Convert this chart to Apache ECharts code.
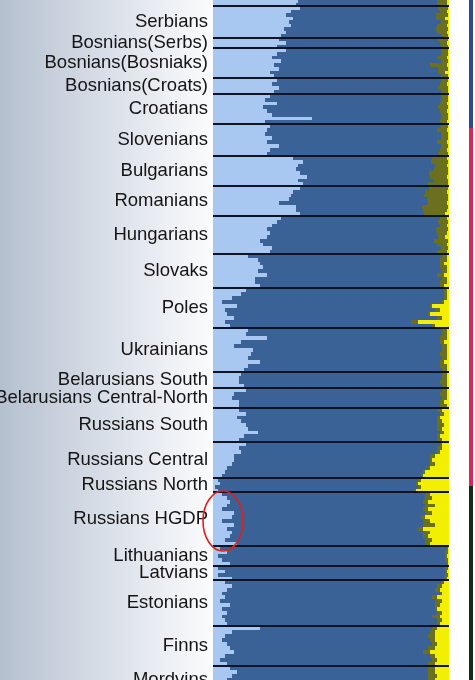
<!DOCTYPE html>
<html>
<head>
<meta charset="utf-8">
<script src="https://cdn.jsdelivr.net/npm/echarts@6/dist/echarts.min.js"></script>
<style>
html, body { margin: 0; padding: 0; background: #fff; }
#main { width: 475px; height: 680px; }
</style>
</head>
<body>
<div id="main"></div>
<script>
// populations, top to bottom (first one is cut off above the picture)
var groups = ['', 'Serbians', 'Bosnians(Serbs)', 'Bosnians(Bosniaks)', 'Bosnians(Croats)', 'Croatians',
  'Slovenians', 'Bulgarians', 'Romanians', 'Hungarians', 'Slovaks', 'Poles', 'Ukrainians',
  'Belarusians South', 'Belarusians Central-North', 'Russians South', 'Russians Central',
  'Russians North', 'Russians HGDP', 'Lithuanians', 'Latvians', 'Estonians', 'Finns', 'Mordvins'];

// sample counts per population (row height of each block)
var sizes = [3, 16, 5, 15, 8, 15, 16, 15, 15, 19, 17, 20, 22, 8, 10, 17, 18, 7, 27, 10, 7, 23, 20, 14];

// ancestry shares (%) of individuals; dark blue is the remainder
var lightBlue = [
  [36, 35],
  [37, 33, 31, 34, 32, 33, 30, 31, 29],
  [28, 31, 27],
  [31, 27, 25, 29, 26, 28, 24, 26],
  [27, 25, 28, 26],
  [24, 22, 27, 21, 23, 25, 42, 22],
  [24, 23, 22, 25, 23, 28, 24, 23],
  [34, 38, 36, 35, 37, 40, 36, 38],
  [37, 34, 33, 32, 28, 35, 35, 37],
  [29, 27, 25, 23, 24, 23, 20, 21, 25, 24],
  [15, 19, 20, 21, 19, 23, 18, 18, 20],
  [14, 12, 8, 4, 10, 5, 6, 9, 5, 7],
  [15, 14, 23, 12, 9, 17, 16, 15, 20, 15, 13],
  [12, 11, 11, 13],
  [14, 9, 8, 11, 11],
  [11, 14, 10, 12, 14, 15, 19, 13, 11],
  [14, 11, 12, 9, 9, 8, 6, 5, 4],
  [2, 3, 1, 2],
  [4, 6, 7, 6, 4, 9, 8, 4, 9, 6, 8, 7, 5, 10],
  [3, 6, 2, 4, 7],
  [2, 5, 2, 8],
  [5, 8, 6, 4, 5, 3, 7, 4, 6, 4, 5, 6],
  [20, 8, 5, 4, 6, 7, 9, 5, 3, 6],
  [7, 10, 8, 6, 9, 7, 8]
];
var olive = [
  [4, 4],
  [4, 3, 5, 4, 3, 4, 5, 4, 3],
  [4, 3, 3],
  [3, 3, 4, 3, 7, 4, 3, 3],
  [3, 3, 4, 3],
  [3, 3, 3, 4, 3, 3, 3, 3],
  [3, 4, 3, 3, 4, 3, 3, 4],
  [6, 7, 5, 6, 8, 7, 6, 9],
  [8, 9, 10, 9, 8, 11, 10, 9],
  [3, 4, 3, 5, 4, 3, 6, 4, 3, 4],
  [2, 3, 2, 3, 2, 3, 2, 3, 2],
  [1, 1, 1, 1, 1, 2, 1, 2, 3, 1],
  [2, 2, 3, 2, 2, 2, 3, 2, 2, 3, 2],
  [2, 2, 3, 2],
  [2, 3, 2, 2, 3],
  [2, 2, 1, 2, 3, 2, 2, 1, 2],
  [1, 2, 1, 2, 1, 2, 1, 1, 1],
  [1, 1, 1, 1],
  [2, 3, 2, 4, 2, 3, 2, 3, 5, 2, 3, 2, 3, 2],
  [0.5, 1, 0.5, 1, 0.5],
  [1, 0.5, 1, 1],
  [1, 2, 2, 1, 2, 3, 2, 1, 2, 3, 2, 1],
  [2, 2, 3, 2, 2, 3, 3, 2, 2, 3],
  [3, 3, 4, 3, 3, 4, 3]
];
var yellow = [
  [1, 1],
  [0.5, 1, 0.5, 1.5, 0.5, 1, 0.5, 1, 0.5],
  [0.5, 1, 0.5],
  [0.5, 0.5, 1, 0.5, 1, 0.5, 1.5, 0.5],
  [0.5, 1, 0.5, 0.5],
  [0.5, 0.5, 1, 0.5, 1, 0.5, 0.5, 1],
  [0.5, 1, 0.5, 0.5, 1, 0.5, 1, 0.5],
  [1, 0.5, 1, 0.5, 0.5, 1, 0.5, 0.5],
  [0.5, 1, 0.5, 0.5, 1, 0.5, 1, 1.5],
  [1, 0.5, 1, 0.5, 1, 1.5, 0.5, 1, 0.5, 1],
  [1, 1, 2, 1, 1, 2, 1, 1, 2],
  [1, 1, 1, 2, 7, 4, 8, 3, 13, 6],
  [1, 1, 1, 2, 1, 1, 1, 1, 2, 1, 1],
  [1, 1, 1, 1],
  [1, 1, 1, 2, 1],
  [3, 2, 4, 3, 2, 3, 2, 4, 3],
  [3, 3, 4, 6, 7, 6, 8, 10, 11],
  [12, 13, 12, 14],
  [8, 7, 9, 6, 9, 7, 10, 8, 6, 11, 8, 9, 7, 8],
  [0.5, 0.5, 1, 0.5, 0.5],
  [0.5, 1, 0.5, 1],
  [2, 3, 4, 3, 5, 3, 4, 5, 3, 4, 3, 4],
  [5, 6, 6, 6, 5, 6, 8, 6, 5, 6],
  [6, 6, 5, 6, 7, 5, 6]
];

// region bar on the right: boundaries in sample units
var regionBreaks = [0, 64, 243, 347];

var colors = ['#a8c8f2', '#3a6296', '#6b701f', '#f2ef00'];
var regionColors = ['#2c4a8c', '#d8285a', '#132a1c'];

// build rows, separators and label positions
var rows = [];
var bounds = [];
var centers = [];
var start = 0;
for (var g = 0; g < groups.length; g++) {
  var k = lightBlue[g].length;
  var h = sizes[g] / k;
  for (var j = 0; j < k; j++) {
    var lb = lightBlue[g][j], ol = olive[g][j], ye = yellow[g][j];
    rows.push([start + j * h, start + (j + 1) * h, lb, 100 - lb - ol - ye, ol, ye]);
  }
  if (g > 0) bounds.push([start]);
  if (groups[g]) centers.push({ v: start + sizes[g] / 2, name: groups[g] });
  start += sizes[g];
}
var regions = [];
for (var r = 0; r < regionBreaks.length - 1; r++) {
  regions.push([regionBreaks[r], regionBreaks[r + 1], r]);
}

var chart = echarts.init(document.getElementById('main'));

function renderRow(params, api) {
  var top = api.value(0), bot = api.value(1);
  var acc = 0;
  var children = [];
  var y0 = Math.round(api.coord([0, top])[1]);
  var y1 = Math.round(api.coord([0, bot])[1]);
  for (var c = 0; c < 4; c++) {
    var v = api.value(2 + c);
    var x0 = Math.round(api.coord([acc, top])[0]);
    var x1 = Math.round(api.coord([acc + v, top])[0]);
    if (x1 > x0) {
      children.push({
        type: 'rect',
        shape: { x: x0, y: y0, width: x1 - x0, height: y1 - y0 },
        style: { fill: colors[c] }
      });
    }
    acc += v;
  }
  return { type: 'group', children: children };
}

function renderSep(params, api) {
  var cs = params.coordSys;
  var p = api.coord([0, api.value(0)]);
  return {
    type: 'rect',
    shape: { x: cs.x, y: Math.round(p[1]) - 1, width: cs.width, height: 2 },
    style: { fill: '#0e1424' }
  };
}

function renderRegion(params, api) {
  var cs = params.coordSys;
  var p0 = api.coord([0, api.value(0)]);
  var p1 = api.coord([0, api.value(1)]);
  return {
    type: 'rect',
    shape: { x: cs.x + cs.width + 20, y: p0[1], width: 4, height: p1[1] - p0[1] },
    style: { fill: regionColors[api.value(2)] }
  };
}

chart.setOption({
  animation: false,
  backgroundColor: '#ffffff',
  graphic: [{
    type: 'rect',
    left: 0, top: 0, z: -10, silent: true,
    shape: { width: 213, height: 680 },
    style: {
      fill: new echarts.graphic.LinearGradient(0, 0, 1, 0, [
        { offset: 0, color: '#b5c0cf' },
        { offset: 0.5, color: '#d9dfe8' },
        { offset: 1, color: '#fbfcfd' }
      ])
    }
  }],
  grid: { left: 213, right: 26, top: 0, bottom: 0, outerBoundsMode: 'none', containLabel: false },
  xAxis: { type: 'value', min: 0, max: 100, show: false },
  yAxis: {
    type: 'value', min: 0, max: 340, inverse: true,
    axisLine: { show: false }, axisTick: { show: false }, splitLine: { show: false },
    axisLabel: {
      customValues: centers.map(function (c) { return c.v; }),
      showMaxLabel: true,
      margin: 5,
      fontFamily: 'Liberation Sans, Arial, sans-serif',
      fontSize: 18.5,
      color: '#151515',
      formatter: function (value) {
        var best = centers[0];
        centers.forEach(function (c) { if (Math.abs(c.v - value) < Math.abs(best.v - value)) best = c; });
        return best.name;
      }
    }
  },
  series: [
    { type: 'custom', renderItem: renderRow, data: rows, encode: { x: [2, 3, 4, 5], y: [0, 1] }, clip: false },
    { type: 'custom', renderItem: renderSep, data: bounds, encode: { y: 0 }, z: 3 },
    { type: 'custom', renderItem: renderRegion, data: regions, encode: { y: [0, 1] }, clip: false }
  ]
});

// red hand-drawn ring around the Russians HGDP block
var hg = groups.indexOf('Russians HGDP');
var hgStart = sizes.slice(0, hg).reduce(function (a, b) { return a + b; }, 0);
var yTop = chart.convertToPixel({ yAxisIndex: 0 }, hgStart);
var yBot = chart.convertToPixel({ yAxisIndex: 0 }, hgStart + sizes[hg]);
var xLeft = chart.convertToPixel({ xAxisIndex: 0 }, 0);
chart.setOption({
  graphic: [{}, {
    type: 'ellipse', z: 10, silent: true,
    shape: { cx: xLeft + 10, cy: (yTop + yBot) / 2 + 2, rx: 20, ry: (yBot - yTop) / 2 + 3 },
    style: { fill: null, stroke: '#e0201c', lineWidth: 1.6 }
  }]
});
</script>
</body>
</html>
